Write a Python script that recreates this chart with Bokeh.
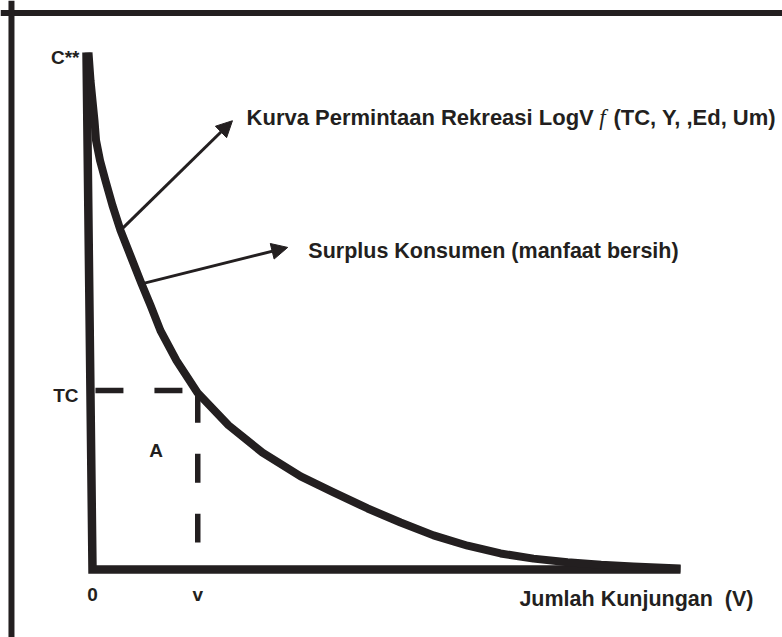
from bokeh.plotting import figure
from bokeh.models import Range1d, Span, Arrow, NormalHead, ColumnDataSource
from bokeh.core.properties import value
from bokeh.embed import file_html
from bokeh.resources import INLINE

INK = "#231f20"

# Demand curve (V = jumlah kunjungan, P = biaya perjalanan)
curve_v = [-0.68, -0.34, 0.0, 0.34, 0.6, 1.28, 2.21, 3.40, 4.76, 6.46, 8.33, 9.86,
           11.56, 14.29, 17.86, 23.13, 28.91, 35.4, 41.0, 46.8, 52.4, 58.0, 63.8,
           69.4, 75.0, 80.8, 86.5, 92.0, 100.0]
curve_p = [100.0, 94.6, 90.7, 86.8, 83.0, 79.1, 75.2, 70.4, 65.6, 60.7, 55.3, 51.1,
           46.2, 40.4, 34.2, 27.9, 22.6, 18.0, 14.9, 11.8, 9.1, 6.6, 4.6,
           3.1, 2.1, 1.4, 0.9, 0.6, 0.2]

# Axes of the diagram
axis_v = [-1.02, 0.0, 100.0]
axis_p = [100.0, 0.0, 0.0]

# Chosen point on the curve
tc_level = 34.6
v_level = 17.9

# Tick-like labels
tick_labels = ["C**", "TC", "0", "v"]
x_title = "Jumlah Kunjungan \u00a0(V)"
area_label = "A"
curve_label_a = "Kurva Permintaan Rekreasi LogV"
curve_label_f = "f"
curve_label_b = "(TC, Y, ,Ed, Um)"
surplus_label = "Surplus Konsumen (manfaat bersih)"

W, H = 782, 637
sx, sy = 5.88, 5.17
x0_px, y0_px = 92, 569  # canvas pixel of origin

p = figure(width=W, height=H, output_backend="svg", toolbar_location=None,
           x_range=Range1d(-x0_px / sx, (W - x0_px) / sx),
           y_range=Range1d(-(H - y0_px) / sy, y0_px / sy),
           min_border=0, tools="")
p.axis.visible = False
p.grid.visible = False
p.outline_line_color = None
p.background_fill_color = "white"
p.border_fill_color = "white"

# image frame (top and left edges)
p.add_layout(Span(location=107.64, dimension="width", line_color=INK, line_width=6))
p.add_layout(Span(location=-13.78, dimension="height", line_color=INK, line_width=6))

# axes
p.line(axis_v, axis_p, line_color=INK, line_width=8.5, line_join="miter", line_cap="butt")

# curve
p.line(curve_v, curve_p, line_color=INK, line_width=8, line_join="round", line_cap="butt")

# dashed guides
p.line([0.5, 16.0], [tc_level, tc_level], line_color=INK, line_width=5.5,
       line_dash="28 31", line_cap="butt")
p.line([v_level, v_level], [34.0, 5.2], line_color=INK, line_width=5.5,
       line_dash="29 31", line_cap="butt")

# arrows
for (xs, ys, xe, ye) in [(4.76, 65.6, 23.8, 86.8), (8.5, 55.3, 33.2, 62.3)]:
    p.add_layout(Arrow(x_start=xs, y_start=ys, x_end=xe, y_end=ye,
                       line_color=INK, line_width=3,
                       end=NormalHead(size=16, fill_color=INK, line_color=INK, line_width=1)))

font = value("Liberation Sans")

# tick labels
src_ticks = ColumnDataSource(dict(
    x=[-2.21, -2.38], y=[99.03, 33.66], t=tick_labels[:2]))
p.text("x", "y", text="t", source=src_ticks, text_font=font, text_font_style="bold",
       text_font_size="19px", text_align="right", text_baseline="alphabetic", text_color=INK)

src_bottom = ColumnDataSource(dict(
    x=[0.0, v_level, 10.8], y=[-4.84, -4.84, 23.0], t=tick_labels[2:] + [area_label]))
p.text("x", "y", text="t", source=src_bottom, text_font=font, text_font_style="bold",
       text_font_size="19px", text_align="center", text_baseline="alphabetic", text_color=INK)

src_big = ColumnDataSource(dict(
    x=[72.6, 36.7], y=[-5.8, 61.7], t=[x_title, surplus_label]))
p.text("x", "y", text="t", source=src_big, text_font=font, text_font_style="bold",
       text_font_size="21.5px", text_align="left", text_baseline="alphabetic", text_color=INK)

src_kurva = ColumnDataSource(dict(
    x=[26.2, 88.6], y=[87.4, 87.4], t=[curve_label_a, curve_label_b]))
p.text("x", "y", text="t", source=src_kurva, text_font=font, text_font_style="bold",
       text_font_size="22px", text_align="left", text_baseline="alphabetic", text_color=INK)

p.text(x=[86.2], y=[87.4], text=[curve_label_f], text_font=value("Liberation Serif"),
       text_font_style="italic", text_font_size="23px", text_align="left",
       text_baseline="alphabetic", text_color=INK)

open("out.html", "w").write(file_html(p, INLINE))
